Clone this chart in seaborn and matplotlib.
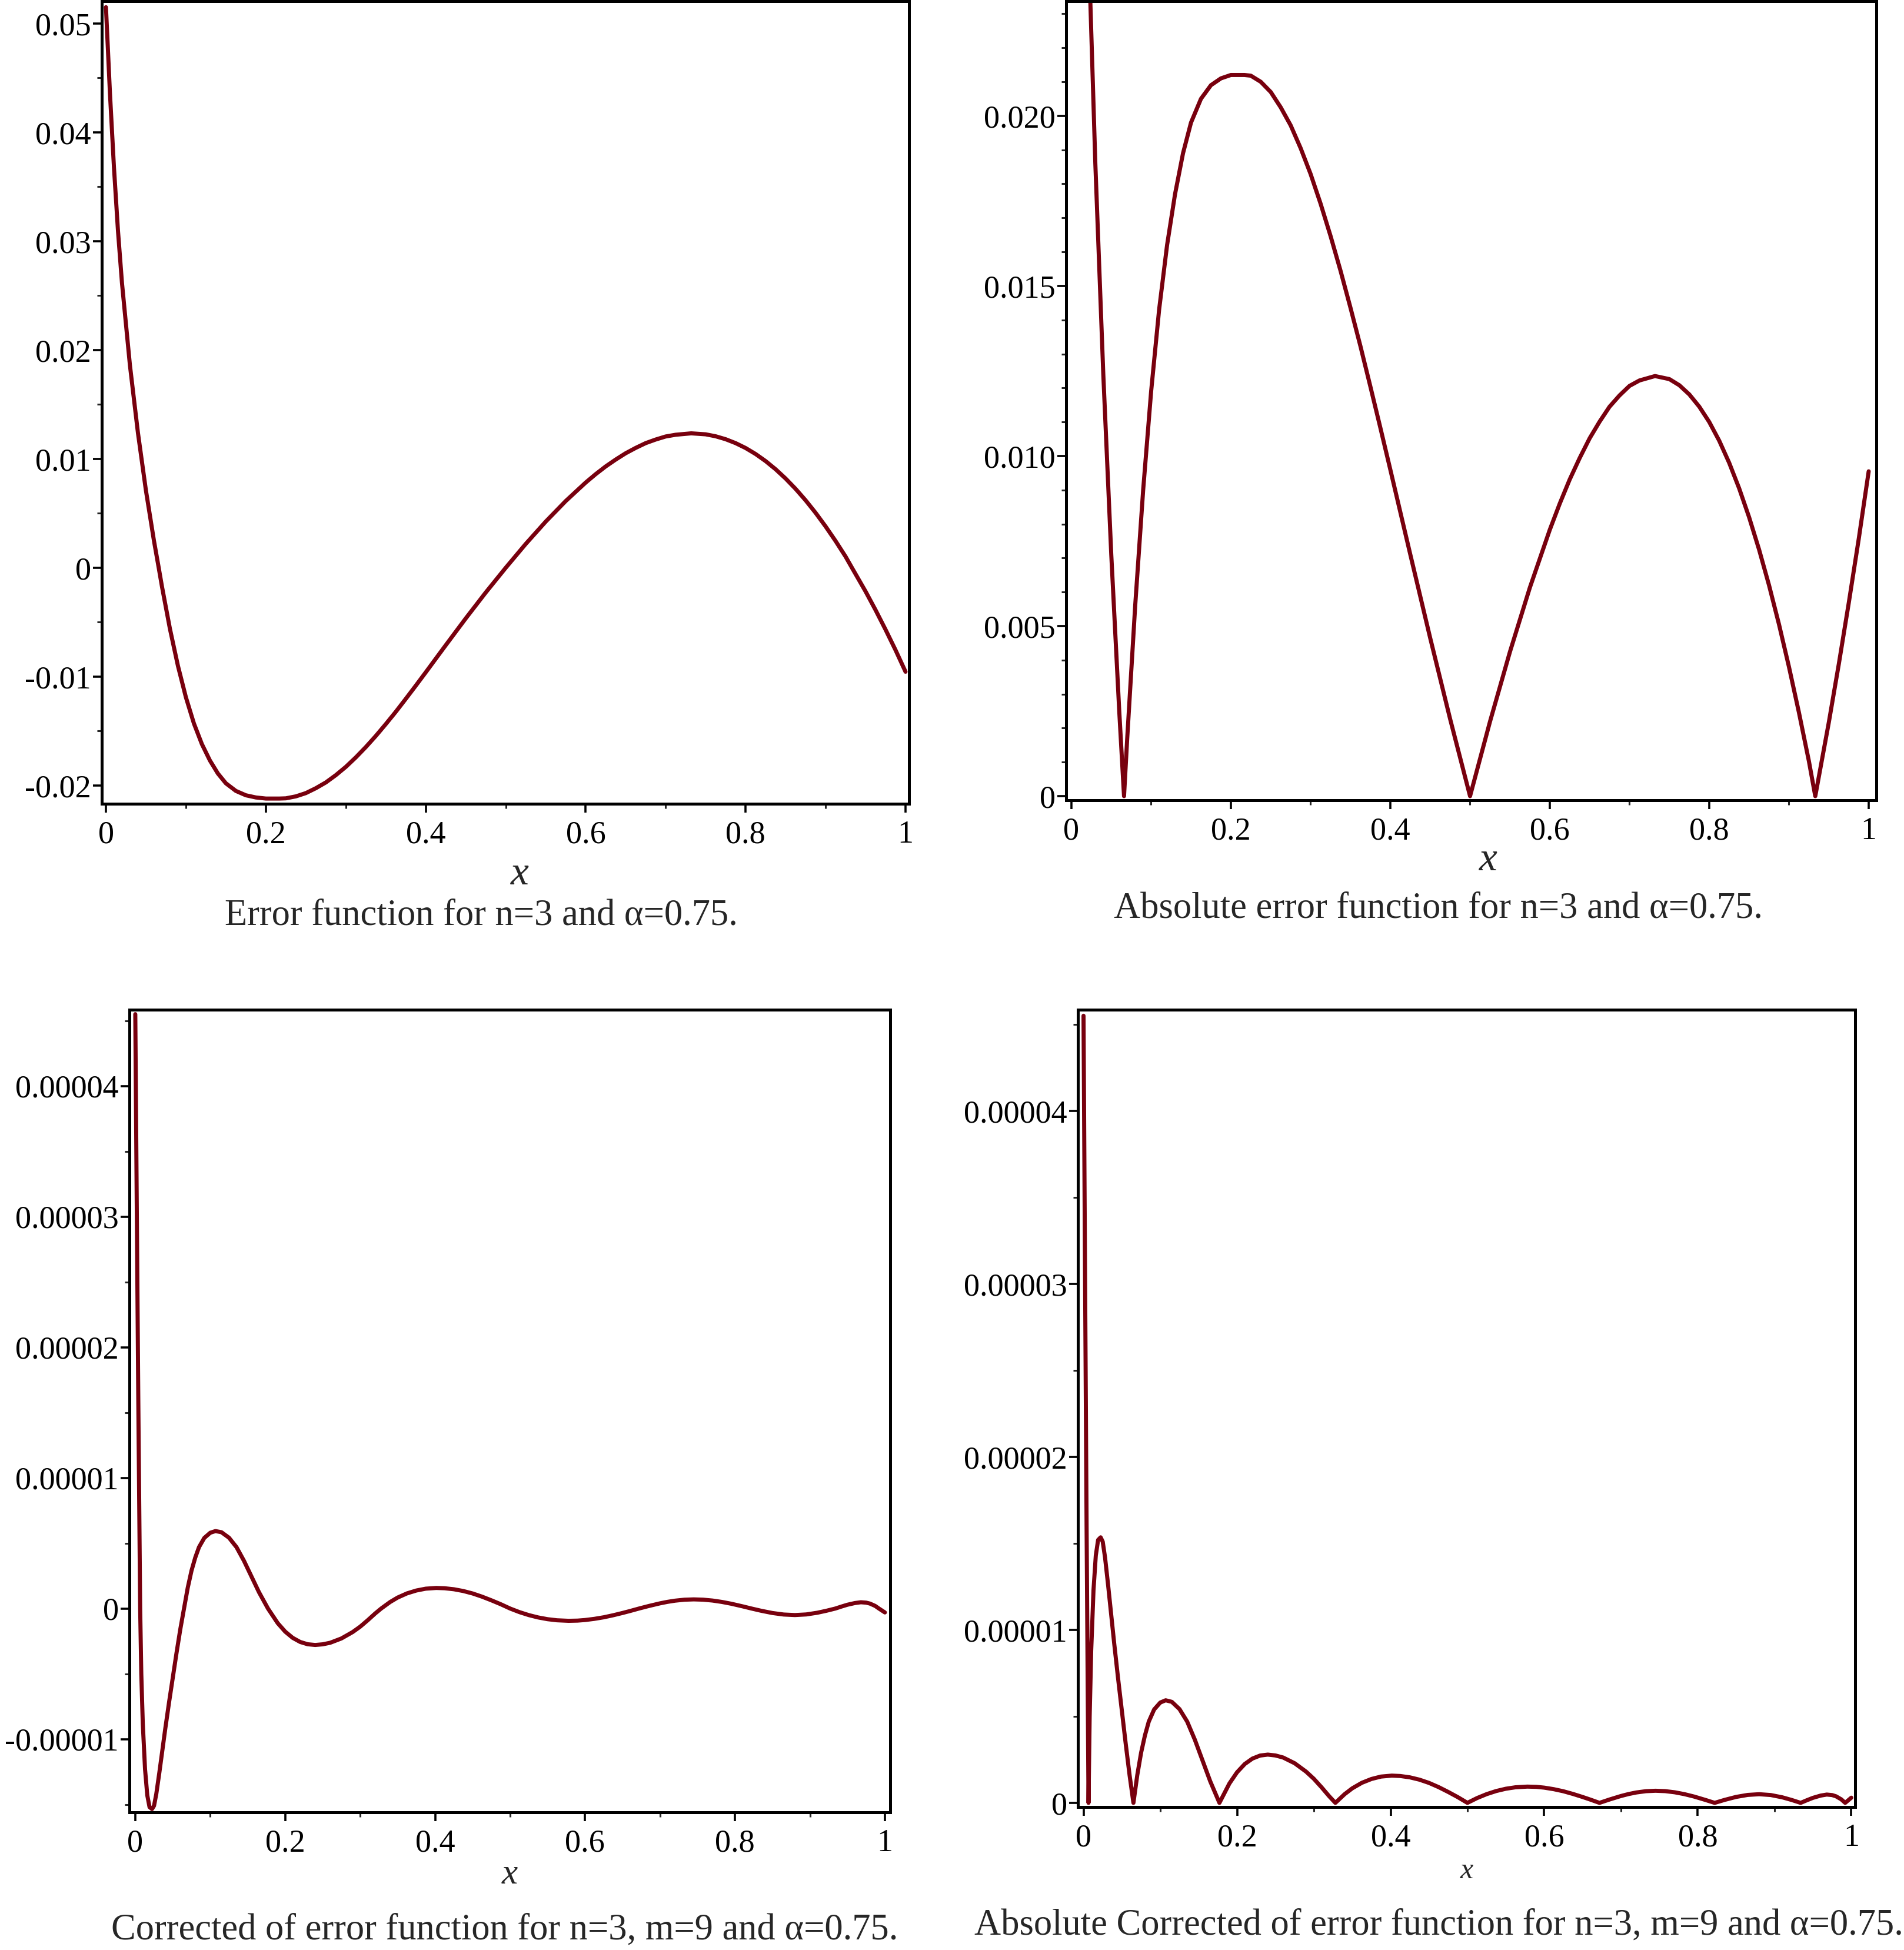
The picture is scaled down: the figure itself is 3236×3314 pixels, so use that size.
import numpy as np
import pandas as pd
import seaborn as sns
import matplotlib
matplotlib.use("Agg")
import matplotlib.pyplot as plt
from matplotlib.ticker import FixedLocator, FixedFormatter, MultipleLocator

# ---------------- data ----------------
# Error function, n=3, alpha=0.75
x_err = [0.0, 0.005, 0.01, 0.015, 0.02, 0.03, 0.04, 0.05, 0.06, 0.066, 0.07, 0.08,
         0.09, 0.1, 0.11, 0.12, 0.13, 0.14, 0.15, 0.1625, 0.175, 0.1875, 0.2, 0.217,
         0.225, 0.2375, 0.25, 0.2625, 0.275, 0.2875, 0.3, 0.3125, 0.325, 0.3375, 0.35,
         0.3625, 0.375, 0.3875, 0.4, 0.425, 0.45, 0.475, 0.5, 0.525, 0.55, 0.575, 0.6,
         0.6125, 0.625, 0.6375, 0.65, 0.6625, 0.675, 0.6875, 0.7, 0.7125, 0.732, 0.75,
         0.7625, 0.775, 0.7875, 0.8, 0.8125, 0.825, 0.8375, 0.85, 0.8625, 0.875, 0.8875,
         0.9, 0.9125, 0.925, 0.933, 0.95, 0.9625, 0.975, 0.9875, 1.0]
y_err = [0.0515, 0.0436, 0.0368, 0.0310, 0.0262, 0.0186, 0.0124, 0.0071, 0.0025, 0.0,
         -0.0017, -0.0056, -0.0090, -0.0119, -0.0143, -0.0162, -0.0177, -0.0189,
         -0.0198, -0.0205, -0.0209, -0.0211, -0.0212, -0.0212, -0.02118, -0.0210,
         -0.0207, -0.02025, -0.01972, -0.01905, -0.01829, -0.01742, -0.01647, -0.01545,
         -0.01436, -0.01323, -0.01204, -0.01083, -0.0096, -0.00711, -0.00465, -0.00227,
         0.0, 0.00219, 0.00424, 0.00613, 0.00783, 0.0086, 0.00931, 0.00994, 0.01052,
         0.01101, 0.01145, 0.01178, 0.01206, 0.01222, 0.01235, 0.01226, 0.01208,
         0.01181, 0.01145, 0.0110, 0.01045, 0.0098, 0.00905, 0.0082, 0.00725, 0.0062,
         0.00505, 0.0038, 0.00246, 0.00103, 0.0, -0.00217, -0.00388, -0.00568, -0.00756,
         -0.00955]

# Corrected error function, n=3, m=9, alpha=0.75 (values in units of 1e-6)
x_cor = [0.0, 0.002, 0.004, 0.0065, 0.008, 0.010, 0.013, 0.016, 0.019, 0.0223, 0.025,
         0.028, 0.032, 0.036, 0.040, 0.045, 0.050, 0.055, 0.060, 0.065, 0.070, 0.075,
         0.080, 0.085, 0.092, 0.100, 0.107, 0.115, 0.125, 0.135, 0.145, 0.155, 0.165,
         0.177, 0.19, 0.20, 0.21, 0.22, 0.23, 0.24, 0.25, 0.26, 0.275, 0.29, 0.30, 0.31,
         0.32, 0.328, 0.34, 0.35, 0.3625, 0.375, 0.3875, 0.4015, 0.4125, 0.425, 0.4375,
         0.45, 0.4625, 0.475, 0.4875, 0.5, 0.5125, 0.525, 0.5375, 0.55, 0.5625, 0.578,
         0.59, 0.6, 0.6125, 0.625, 0.6375, 0.65, 0.66, 0.672, 0.685, 0.7, 0.71, 0.72,
         0.7325, 0.745, 0.7575, 0.77, 0.7825, 0.795, 0.81, 0.822, 0.835, 0.85, 0.865,
         0.88, 0.895, 0.91, 0.922, 0.934, 0.942, 0.95, 0.96, 0.968, 0.975, 0.98, 0.987,
         0.992, 1.0]
y_cor_micro = [45.5, 30.5, 16.0, 0.0, -5.0, -8.8, -12.3, -14.3, -15.2, -15.35, -15.1,
               -14.2, -12.6, -10.9, -9.2, -7.2, -5.3, -3.4, -1.6, 0.0, 1.6, 2.9, 3.9,
               4.7, 5.4, 5.8, 5.93, 5.84, 5.42, 4.70, 3.65, 2.45, 1.25, 0.0, -1.12, -1.77,
               -2.245, -2.56, -2.735, -2.79, -2.74, -2.62, -2.29, -1.80, -1.39, -0.90,
               -0.38, 0.0, 0.50, 0.84, 1.16, 1.38, 1.52, 1.575, 1.553, 1.475, 1.341,
               1.153, 0.91, 0.63, 0.33, 0.0, -0.276, -0.504, -0.684, -0.816, -0.90, -0.94,
               -0.925, -0.88, -0.79, -0.67, -0.515, -0.34, -0.19, 0.0, 0.193, 0.397,
               0.511, 0.601, 0.675, 0.70, 0.678, 0.611, 0.505, 0.367, 0.169, 0.0, -0.172,
               -0.344, -0.459, -0.50, -0.453, -0.321, -0.171, 0.0, 0.15, 0.29, 0.42, 0.48,
               0.45, 0.38, 0.20, 0.0, -0.3]

x_ticks = [0, 0.2, 0.4, 0.6, 0.8, 1]
x_ticklabels = ["0", "0.2", "0.4", "0.6", "0.8", "1"]
yt1 = [-0.02, -0.01, 0, 0.01, 0.02, 0.03, 0.04, 0.05]
yl1 = ["-0.02", "-0.01", "0", "0.01", "0.02", "0.03", "0.04", "0.05"]
yt2 = [0, 0.005, 0.010, 0.015, 0.020]
yl2 = ["0", "0.005", "0.010", "0.015", "0.020"]
yt3 = [-0.00001, 0, 0.00001, 0.00002, 0.00003, 0.00004]
yl3 = ["-0.00001", "0", "0.00001", "0.00002", "0.00003", "0.00004"]
yt4 = [0, 0.00001, 0.00002, 0.00003, 0.00004]
yl4 = ["0", "0.00001", "0.00002", "0.00003", "0.00004"]

captions = ["Error function for n=3 and \u03b1=0.75.",
            "Absolute error function for n=3 and \u03b1=0.75.",
            "Corrected of error function for n=3, m=9 and \u03b1=0.75.",
            "Absolute Corrected of error function for n=3, m=9 and \u03b1=0.75."]

# ---------------- styling ----------------
sns.set_theme(style="white")
plt.rcParams['font.family'] = ['Liberation Serif', 'DejaVu Serif']
LINE = "#78000E"

W, H = 3237, 3314
DPI = 100
fig = plt.figure(figsize=(W / DPI, H / DPI), dpi=DPI)
fig.patch.set_facecolor("white")


def add_ax(l, r, t, b):
    return fig.add_axes([l / W, 1 - b / H, (r - l) / W, (b - t) / H])


df1 = pd.DataFrame({"x": x_err, "y": y_err})
df2 = pd.DataFrame({"x": x_err, "y": np.abs(y_err)})
y_cor = np.array(y_cor_micro) * 1e-6
df3 = pd.DataFrame({"x": x_cor, "y": y_cor})
df4 = pd.DataFrame({"x": x_cor, "y": np.abs(y_cor)})

panels = [
    dict(box=(173, 1545, 2, 1366), df=df1, xlim=(-0.0052, 1.0044), ylim=(-0.02168, 0.05205),
         yt=yt1, yl=yl1, yminor=0.005, xlab=(883, 1486), cap=(818, 1557), xlabsize=50),
    dict(box=(1812, 3189, 2, 1360), df=df2, xlim=(-0.0066, 1.0096), ylim=(-0.00012, 0.02337),
         yt=yt2, yl=yl2, yminor=0.001, xlab=(2529, 1462), cap=(2445, 1545), xlabsize=50),
    dict(box=(220, 1513, 1716, 3080), df=df3, xlim=(-0.0078, 1.0071), ylim=(-1.56e-5, 4.584e-5),
         yt=yt3, yl=yl3, yminor=0.000005, xlab=(866, 3186), cap=(858, 3281), xlabsize=44),
    dict(box=(1832, 3153, 1716, 3071), df=df4, xlim=(-0.0073, 1.005), ylim=(-2.4e-7, 4.585e-5),
         yt=yt4, yl=yl4, yminor=0.000005, xlab=(2493, 3180), cap=(2445, 3273), xlabsize=36),
]

for i, p in enumerate(panels):
    ax = add_ax(*p["box"])
    sns.lineplot(data=p["df"], x="x", y="y", ax=ax, color=LINE, linewidth=5.0,
                 sort=False, estimator=None)
    ax.set_xlim(*p["xlim"])
    ax.set_ylim(*p["ylim"])
    ax.set_xlabel("")
    ax.set_ylabel("")
    ax.set_facecolor("white")
    for s in ax.spines.values():
        s.set_visible(True)
        s.set_color("black")
        s.set_linewidth(3.6)
    ax.xaxis.set_major_locator(FixedLocator(x_ticks))
    ax.xaxis.set_major_formatter(FixedFormatter(x_ticklabels))
    ax.xaxis.set_minor_locator(MultipleLocator(0.1))
    ax.yaxis.set_major_locator(FixedLocator(p["yt"]))
    ax.yaxis.set_major_formatter(FixedFormatter(p["yl"]))
    ax.yaxis.set_minor_locator(MultipleLocator(p["yminor"]))
    ax.tick_params(axis="both", which="major", direction="out", length=11, width=2.6,
                   labelsize=39, colors="black", bottom=True, left=True, top=False, right=False)
    ax.tick_params(axis="both", which="minor", direction="out", length=6, width=2.2,
                   bottom=True, left=True, top=False, right=False)
    ax.tick_params(axis="x", which="major", pad=9)
    ax.tick_params(axis="y", which="major", pad=2)
    ax.grid(False)
    fig.text(p["xlab"][0] / W, 1 - p["xlab"][1] / H, "x", fontsize=p["xlabsize"],
             fontstyle="italic", ha="center", va="center")
    fig.text(p["cap"][0] / W, 1 - p["cap"][1] / H, captions[i], fontsize=45,
             ha="center", va="center")

fig.savefig("out.png", dpi=DPI, facecolor="white")
